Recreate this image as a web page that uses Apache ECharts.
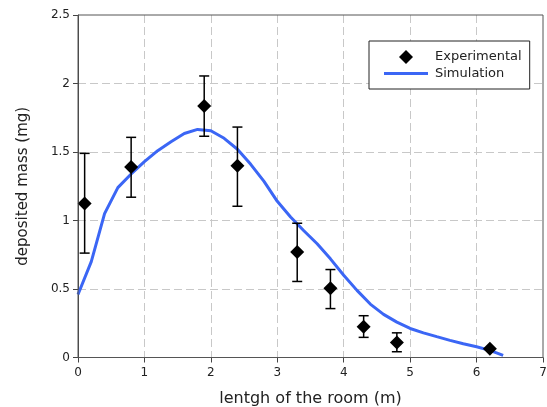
<!DOCTYPE html>
<html><head><meta charset="utf-8">
<script src="https://cdn.jsdelivr.net/npm/echarts@6/dist/echarts.min.js"></script>
<style>html,body{margin:0;padding:0;background:#fff}#c{width:547px;height:407px}</style>
</head><body><div id="c"></div>
<script>
const expX = [0.1, 0.8, 1.9, 2.4, 3.3, 3.8, 4.3, 4.8, 6.2];
const expY = [1.125, 1.39, 1.835, 1.40, 0.77, 0.505, 0.225, 0.11, 0.063];
const expLow = [0.762, 1.17, 1.615, 1.104, 0.555, 0.357, 0.147, 0.042, 0.063];
const expHigh = [1.49, 1.607, 2.055, 1.682, 0.98, 0.642, 0.305, 0.18, 0.063];
const simX = [0,0.2,0.4,0.6,0.8,1.0,1.2,1.4,1.6,1.8,2.0,2.2,2.4,2.6,2.8,3.0,3.2,3.4,3.6,3.8,4.0,4.2,4.4,4.6,4.8,5.0,5.2,5.4,5.6,5.8,6.0,6.2,6.4];
const simY = [0.46,0.70,1.05,1.24,1.34,1.43,1.51,1.575,1.635,1.665,1.655,1.60,1.52,1.41,1.285,1.14,1.025,0.925,0.83,0.72,0.60,0.49,0.39,0.315,0.258,0.212,0.18,0.152,0.125,0.1,0.078,0.052,0.015];
const xTicks = [0,1,2,3,4,5,6,7];
const yTicks = [0,0.5,1,1.5,2,2.5];

const chart = echarts.init(document.getElementById('c'));
const font = 'DejaVu Sans';
const lineColor = '#3b66f5';
chart.setOption({
  animation: false,
  grid: {left: 78, right: 4, top: 15, bottom: 49.5, show: true, borderColor: '#555', borderWidth: 1, z: 5,
    outerBoundsMode: 'none', containLabel: false},
  legend: {
    orient: 'vertical', left: 369, top: 41,
    backgroundColor: '#fff', borderColor: '#222', borderWidth: 1,
    padding: [9, 8, 9, 15], itemGap: 3, itemWidth: 44, itemHeight: 14,
    textStyle: {fontFamily: font, fontSize: 13, color: '#222', padding: [0,0,0,2]},
    data: [
      {name: 'Experimental', icon: 'path://M7,0 L14,7 L7,14 L0,7 Z', itemStyle: {color: '#000', opacity: 1}},
      {name: 'Simulation', icon: 'path://M0,0 L44,0 L44,3 L0,3 Z', itemStyle: {color: lineColor}}
    ]
  },
  xAxis: {
    type: 'value', min: 0, max: 7, interval: 1,
    name: 'lentgh of the room (m)', nameLocation: 'middle', nameGap: 33,
    nameTextStyle: {fontFamily: font, fontSize: 16, color: '#222'},
    axisLine: {show: true, onZero: false, lineStyle: {color: '#444'}},
    axisTick: {show: true, length: 5, lineStyle: {color: '#444'}},
    axisLabel: {fontFamily: font, fontSize: 12, color: '#222', margin: 9,
      formatter: v => xTicks.includes(v) ? String(v) : ''},
    splitLine: {show: true, showMaxLine: false, lineStyle: {color: '#c8c8c8', type: [8, 4]}}
  },
  yAxis: {
    type: 'value', min: 0, max: 2.5, interval: 0.5,
    name: 'deposited mass (mg)', nameLocation: 'middle', nameGap: 47,
    nameTextStyle: {fontFamily: font, fontSize: 15, color: '#222'},
    axisLine: {show: true, onZero: false, lineStyle: {color: '#444'}},
    axisTick: {show: true, length: 5, lineStyle: {color: '#444'}},
    axisLabel: {fontFamily: font, fontSize: 12, color: '#222', margin: 8,
      formatter: v => yTicks.includes(v) ? String(v) : ''},
    splitLine: {show: true, showMaxLine: false, lineStyle: {color: '#c8c8c8', type: [8, 4]}}
  },
  series: [
    {
      name: 'Simulation', type: 'line', symbol: 'none', smooth: false, z: 2,
      lineStyle: {color: lineColor, width: 3}, itemStyle: {color: lineColor},
      data: simX.map((x, i) => [x, simY[i]])
    },
    {
      name: 'errors', type: 'custom', z: 3,
      data: expX.map((x, i) => [x, expLow[i], expHigh[i]]),
      renderItem: (params, api) => {
        const x = api.value(0);
        const lo = api.coord([x, api.value(1)]);
        const hi = api.coord([x, api.value(2)]);
        if (Math.abs(lo[1] - hi[1]) < 1) return {type: 'group', children: []};
        const hw = 5;
        const st = {stroke: '#000', lineWidth: 1.5, fill: null};
        return {type: 'group', children: [
          {type: 'line', shape: {x1: lo[0], y1: lo[1], x2: hi[0], y2: hi[1]}, style: st},
          {type: 'line', shape: {x1: lo[0]-hw, y1: lo[1], x2: lo[0]+hw, y2: lo[1]}, style: st},
          {type: 'line', shape: {x1: hi[0]-hw, y1: hi[1], x2: hi[0]+hw, y2: hi[1]}, style: st}
        ]};
      }
    },
    {
      name: 'Experimental', type: 'scatter', symbol: 'diamond', symbolSize: 14, z: 4,
      itemStyle: {color: '#000', opacity: 1},
      data: expX.map((x, i) => [x, expY[i]])
    }
  ]
});
</script></body></html>
